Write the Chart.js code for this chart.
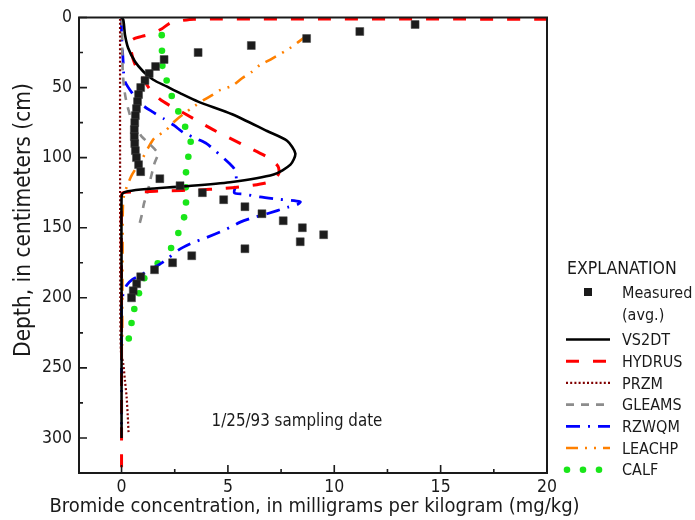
<!DOCTYPE html>
<html lang="en">
<head>
<meta charset="UTF-8">
<title>Bromide concentration with depth</title>
<script src="https://cdn.jsdelivr.net/npm/chart.js"></script>
<style>
  body { margin: 0; background: #fff; }
  #wrap { width: 695px; height: 520px; }
</style>
</head>
<body>
<div id="wrap"><canvas id="chart" width="695" height="520"></canvas></div>
<script>
// measured (avg.) bromide, every 5 cm
const measuredDepth = [5, 10, 15, 20, 25, 30, 35, 40, 45, 50, 55, 60, 65, 70, 75, 80, 85, 90, 95, 100,
  105, 110, 115, 120, 125, 130, 135, 140, 145, 150, 155, 160, 165, 170, 175, 180, 185, 190, 195, 200];
const measuredConc = [13.8, 11.2, 8.7, 6.1, 3.6, 2.0, 1.6, 1.3, 1.1, 0.9, 0.8, 0.75, 0.7, 0.65, 0.62, 0.6, 0.6, 0.62, 0.65, 0.7,
  0.8, 0.9, 1.8, 2.75, 3.8, 4.8, 5.8, 6.6, 7.6, 8.5, 9.5, 8.4, 5.8, 3.3, 2.4, 1.55, 0.9, 0.71, 0.55, 0.47];

// model curves (depth, concentration)
const vs2dtDepth = [0, 1.6, 6, 12.3, 21.8, 31.4, 38.5, 44.4, 49.2, 54, 60, 69, 81, 88, 97, 105, 112, 117.5, 120.5, 122.4, 124, 125.5, 128, 180, 240, 300];
const vs2dtConc = [0, 0.08, 0.12, 0.16, 0.31, 0.63, 1.02, 1.49, 2.12, 2.75, 3.6, 5.2, 6.84, 7.78, 8.17, 7.94, 7.15, 5.1, 2.9, 1.18, 0.3, 0.05, 0, 0, 0, 0];

const hydrusDepth = [1.2, 1.2, 2.4, 4, 8, 11.5, 13.5, 16, 23, 30, 36, 42, 53, 60, 68, 80, 90, 100, 106, 111, 115, 118,
  120.5, 122, 123.1, 123.6, 124.3, 124.8, 126.5, 200, 260, 322];
const hydrusConc = [20, 3.4, 2.75, 2.28, 1.9, 1.45, 0.95, 0.5, 0.45, 0.55, 0.71, 0.94, 1.42, 1.96, 2.9, 4.3, 5.6, 6.9, 7.35, 7.4, 7.2, 6.8,
  5.8, 4.8, 3.5, 2.2, 1.0, 0.1, 0, 0, 0, 0];

const przmDepth = [1, 100, 200, 238, 247, 259, 271, 284, 296];
const przmConc = [-0.07, -0.07, -0.06, -0.03, 0.08, 0.16, 0.24, 0.29, 0.33];

const gleamsDepth = [0, 15, 36, 49, 58, 65, 72, 80, 85, 90, 97, 104, 114, 124, 133, 141, 151];
const gleamsConc = [0, 0.03, 0.05, 0.11, 0.2, 0.31, 0.45, 0.75, 0.95, 1.3, 1.7, 1.55, 1.38, 1.23, 1.05, 0.95, 0.78];

const rzwqmDepth = [0, 12, 25, 33, 40, 46, 55, 62, 67, 72, 77, 82, 87, 90, 95, 104.6, 109, 118, 125, 126, 128, 129.5, 131.5, 133.6,
  135.5, 140, 142.7, 146, 149, 153, 157, 161, 166, 172, 176, 180, 184, 187, 191, 197, 205, 250, 300];
const rzwqmConc = [0, 0, 0.05, 0.08, 0.1, 0.17, 0.55, 0.94, 1.42, 1.96, 2.47, 2.9, 3.6, 4.0, 4.4, 5.1, 5.34, 5.4, 5.3, 5.74, 6.5, 7.26, 8.4, 8.25,
  7.8, 6.84, 6.2, 5.58, 5.2, 4.64, 4.0, 3.3, 2.67, 2.17, 1.8, 1.3, 0.9, 0.5, 0.24, 0.08, 0, 0, 0];

const leachpDepth = [13, 22, 30, 34, 39, 43.5, 48.7, 52, 55, 59, 63, 69, 74, 81, 86, 93, 100, 112, 121, 130, 160, 235];
const leachpConc = [8.7, 7.9, 7.0, 6.5, 6.1, 5.65, 5.2, 4.6, 4.3, 3.85, 3.45, 2.9, 2.5, 2.05, 1.55, 1.25, 1.0, 0.5, 0.24, 0.08, 0.05, 0.03];

const calfDepth = [12.6, 23.7, 34.5, 45, 56, 67, 78, 88.7, 99.4, 110.5, 121.2, 132, 142.6, 153.8, 164.5, 175.4, 186, 196.8, 208, 218, 229];
const calfConc = [1.89, 1.9, 1.92, 2.12, 2.36, 2.67, 2.99, 3.25, 3.14, 3.03, 3.02, 3.03, 2.94, 2.67, 2.33, 1.7, 1.07, 0.82, 0.6, 0.47, 0.34];

const xTicks = [0, 5, 10, 15, 20];
const yTicks = [0, 50, 100, 150, 200, 250, 300];

const FONT = "'Liberation Sans Narrow', 'DejaVu Sans Condensed', 'Arial Narrow', sans-serif";

function pts(xs, ys) {
  return xs.map((x, i) => ({ x: x, y: ys[i] }));
}

function curve(label, xs, ys, color, width, dash) {
  return {
    label: label,
    data: pts(xs, ys),
    showLine: true,
    borderColor: color,
    backgroundColor: color,
    borderWidth: width,
    borderDash: dash,
    pointRadius: 0,
    tension: 0.25,
    fill: false
  };
}

// border box, inward ticks, axis titles, note and explanation
const extras = {
  id: 'extras',
  afterDraw(chart) {
    const ctx = chart.ctx, a = chart.chartArea;
    const sx = chart.scales.x, sy = chart.scales.y;
    ctx.save();
    ctx.strokeStyle = '#1a1a1a';
    ctx.lineWidth = 2;
    ctx.setLineDash([]);
    ctx.strokeRect(a.left, a.top, a.right - a.left, a.bottom - a.top);

    ctx.lineWidth = 1.6;
    ctx.beginPath();
    xTicks.forEach((v, i) => {
      const px = sx.getPixelForValue(v);
      ctx.moveTo(px, a.bottom); ctx.lineTo(px, a.bottom - 8);
      if (i < xTicks.length - 1) {
        const mx = sx.getPixelForValue((v + xTicks[i + 1]) / 2);
        ctx.moveTo(mx, a.bottom); ctx.lineTo(mx, a.bottom - 4);
      }
    });
    yTicks.forEach((v) => {
      const py = sy.getPixelForValue(v);
      ctx.moveTo(a.left, py); ctx.lineTo(a.left + 8, py);
      const my = sy.getPixelForValue(v + 25);
      ctx.moveTo(a.left, my); ctx.lineTo(a.left + 4, my);
    });
    ctx.stroke();

    ctx.fillStyle = '#1a1a1a';

    // axis titles
    ctx.textAlign = 'center';
    ctx.textBaseline = 'middle';
    ctx.font = '20px ' + FONT;
    ctx.fillText('Bromide concentration, in milligrams per kilogram (mg/kg)', 314.5, 507);
    ctx.font = '22.5px ' + FONT;
    ctx.save();
    ctx.translate(29.5, 220);
    ctx.rotate(-Math.PI / 2);
    ctx.textBaseline = 'alphabetic';
    ctx.fillText('Depth, in centimeters (cm)', 0, 0);
    ctx.restore();

    ctx.textBaseline = 'middle';
    ctx.textAlign = 'center';
    ctx.font = '16.8px ' + FONT;
    ctx.fillText('1/25/93 sampling date', 297, 422);

    // explanation
    ctx.textAlign = 'left';
    ctx.font = '17.5px ' + FONT;
    ctx.fillText('EXPLANATION', 567, 269);
    ctx.font = '16px ' + FONT;
    ctx.fillText('Measured', 622, 294);
    ctx.fillText('(avg.)', 622, 316);
    ctx.fillRect(584, 288, 8, 8);

    const rows = chart.data.datasets.slice(1);
    rows.forEach((ds, i) => {
      const y = 341 + i * 21.7;
      ctx.fillStyle = '#1a1a1a';
      ctx.fillText(ds.label, 622, y);
      if (ds.showLine) {
        ctx.strokeStyle = ds.borderColor;
        ctx.lineWidth = ds.borderWidth;
        ctx.setLineDash(ds.borderDash || []);
        ctx.beginPath();
        ctx.moveTo(566, y - 1.5);
        ctx.lineTo(610, y - 1.5);
        ctx.stroke();
      } else {
        ctx.fillStyle = ds.backgroundColor;
        [567, 583, 599].forEach((cx) => {
          ctx.beginPath();
          ctx.arc(cx, y - 1.5, ds.pointRadius, 0, Math.PI * 2);
          ctx.fill();
        });
      }
    });
    ctx.restore();
  }
};

new Chart(document.getElementById('chart'), {
  type: 'scatter',
  data: {
    datasets: [
      {
        label: 'Measured (avg.)',
        data: pts(measuredConc, measuredDepth),
        pointStyle: 'rect',
        pointRadius: 5.6,
        backgroundColor: '#1c1c1c',
        borderColor: '#444',
        borderWidth: 0.5
      },
      curve('VS2DT', vs2dtConc, vs2dtDepth, '#000000', 2.6, []),
      curve('HYDRUS', hydrusConc, hydrusDepth, '#ff0000', 3, [13, 14]),
      curve('PRZM', przmConc, przmDepth, '#800000', 2.2, [2, 2.2]),
      curve('GLEAMS', gleamsConc, gleamsDepth, '#8c8c8c', 2.6, [8, 7]),
      curve('RZWQM', rzwqmConc, rzwqmDepth, '#0000ff', 2.8, [14, 8, 2, 8]),
      curve('LEACHP', leachpConc, leachpDepth, '#ff8000', 2.6, [12, 7, 2, 7, 2, 7]),
      {
        label: 'CALF',
        data: pts(calfConc, calfDepth),
        showLine: false,
        pointStyle: 'circle',
        pointRadius: 3.3,
        backgroundColor: '#19e619',
        borderWidth: 0
      }
    ]
  },
  options: {
    responsive: false,
    animation: false,
    layout: { padding: { top: 17, right: 148, left: 0, bottom: 0 } },
    plugins: {
      legend: { display: false },
      tooltip: { enabled: false }
    },
    scales: {
      x: {
        type: 'linear',
        min: -2,
        max: 20,
        afterBuildTicks: (s) => { s.ticks = xTicks.map((v) => ({ value: v })); },
        afterFit: (s) => { s.height = 47; },
        grid: { display: false, drawTicks: false },
        border: { display: false },
        ticks: { color: '#1a1a1a', padding: 4, font: { family: FONT, size: 17.5 } }
      },
      y: {
        type: 'linear',
        reverse: true,
        min: 0,
        max: 325,
        afterBuildTicks: (s) => { s.ticks = yTicks.map((v) => ({ value: v })); },
        afterFit: (s) => { s.width = 79; },
        grid: { display: false, drawTicks: false },
        border: { display: false },
        ticks: { color: '#1a1a1a', padding: 7, font: { family: FONT, size: 17.5 } }
      }
    }
  },
  plugins: [extras]
});
</script>
</body>
</html>
